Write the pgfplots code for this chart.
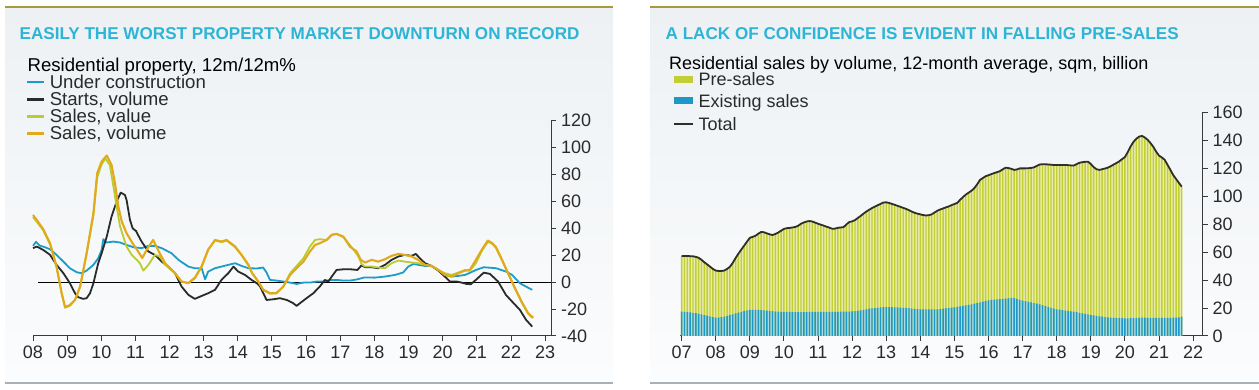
\documentclass[border=0pt]{standalone}
\usepackage{fontspec}
\setmainfont{Liberation Sans}
\usepackage{pgfplots}
\pgfplotsset{compat=1.18}
\usepackage{pgfplotstable}
\definecolor{titlecyan}{HTML}{2DB4D6}
\definecolor{ucblue}{HTML}{1C9DC9}
\definecolor{startsblk}{HTML}{2A2A2A}
\definecolor{salesval}{HTML}{BCCB2F}
\definecolor{salesvol}{HTML}{E2A91B}
\definecolor{olive}{HTML}{A39B3C}
\definecolor{botgrey}{HTML}{A9B1B6}
\definecolor{bgtop}{HTML}{EDF1F4}
\definecolor{bgbot}{HTML}{FBFCFD}
\definecolor{axisgrey}{HTML}{3A3A3A}
\definecolor{labgrey}{HTML}{2A2A2A}
\definecolor{preDark}{HTML}{C3CE35}
\definecolor{prePale}{HTML}{E8ECAE}
\definecolor{exDark}{HTML}{1E98C6}
\definecolor{exPale}{HTML}{A9DBEE}
\definecolor{totC}{HTML}{2F2F28}

\pgfplotstableread{
m total exist
0 57.2 17.4
1 57.2 17.3
2 57.2 17.1
3 57.1 16.9
4 57.0 16.6
5 56.6 16.3
6 55.9 15.9
7 54.5 15.5
8 52.7 15.0
9 51.2 14.5
10 49.6 14.0
11 48.0 13.5
12 46.8 13.1
13 46.5 13.2
14 46.5 13.5
15 46.8 13.9
16 48.0 14.4
17 49.5 15.0
18 52.3 15.5
19 55.8 16.1
20 58.9 16.7
21 61.8 17.3
22 64.6 17.8
23 67.5 18.3
24 70.2 18.6
25 70.9 18.7
26 71.7 18.7
27 73.2 18.6
28 74.4 18.5
29 74.2 18.3
30 73.4 18.1
31 72.7 17.9
32 72.2 17.7
33 73.0 17.5
34 74.0 17.4
35 75.3 17.3
36 76.6 17.2
37 77.1 17.2
38 77.3 17.2
39 77.6 17.1
40 78.0 17.1
41 78.8 17.1
42 80.3 17.1
43 81.2 17.1
44 81.9 17.1
45 82.2 17.2
46 81.9 17.2
47 81.1 17.2
48 80.3 17.2
49 79.6 17.2
50 78.9 17.2
51 78.2 17.2
52 77.5 17.2
53 76.7 17.3
54 76.8 17.3
55 77.4 17.3
56 77.6 17.4
57 77.9 17.4
58 79.8 17.5
59 81.5 17.5
60 82.0 17.6
61 82.9 17.8
62 84.4 18.0
63 85.9 18.3
64 87.5 18.6
65 89.0 19.0
66 90.3 19.5
67 91.5 19.8
68 92.5 20.0
69 93.5 20.2
70 94.5 20.4
71 95.5 20.6
72 95.6 20.7
73 95.2 20.7
74 94.5 20.6
75 93.8 20.5
76 93.1 20.4
77 92.4 20.3
78 91.6 20.2
79 90.9 20.1
80 90.0 19.9
81 89.0 19.6
82 88.1 19.4
83 87.5 19.2
84 87.0 19.1
85 86.5 19.0
86 86.2 19.0
87 86.4 19.0
88 87.0 19.0
89 88.3 19.0
90 89.6 19.1
91 90.5 19.3
92 91.2 19.5
93 92.0 19.8
94 92.7 20.0
95 93.6 20.3
96 94.4 20.5
97 95.2 20.8
98 97.4 21.1
99 99.3 21.5
100 101.1 21.9
101 102.5 22.2
102 103.9 22.6
103 105.7 23.1
104 108.5 23.6
105 111.6 24.1
106 113.0 24.6
107 114.3 25.1
108 115.0 25.5
109 115.8 25.8
110 116.5 26.0
111 117.2 26.2
112 117.9 26.4
113 119.2 26.6
114 120.4 26.7
115 120.1 26.9
116 119.6 27.2
117 118.8 27.0
118 119.1 26.5
119 119.9 25.9
120 119.9 25.3
121 119.9 24.9
122 120.0 24.4
123 120.2 24.0
124 120.6 23.5
125 121.7 23.1
126 122.7 22.6
127 122.8 22.0
128 122.8 21.4
129 122.7 20.8
130 122.5 20.2
131 122.3 19.6
132 122.3 19.1
133 122.3 18.8
134 122.3 18.5
135 122.3 18.2
136 122.2 17.9
137 122.0 17.6
138 121.9 17.4
139 122.9 17.0
140 123.9 16.6
141 124.3 16.2
142 124.6 15.8
143 124.7 15.4
144 123.0 15.0
145 120.8 14.7
146 119.3 14.4
147 118.8 14.1
148 119.3 13.8
149 119.8 13.5
150 120.4 13.3
151 121.4 13.2
152 122.6 13.0
153 123.7 12.9
154 124.9 12.8
155 126.5 12.7
156 128.0 12.6
157 131.5 12.6
158 135.6 12.7
159 138.8 12.8
160 141.1 12.9
161 142.6 13.0
162 143.1 13.1
163 142.0 13.1
164 140.3 13.0
165 138.0 13.0
166 135.3 12.9
167 131.8 12.9
168 129.0 12.9
169 127.7 12.9
170 126.0 12.9
171 122.4 13.0
172 118.8 13.0
173 115.1 13.1
174 112.3 13.1
175 109.5 13.4
176 106.8 13.8
}\rightdata

\begin{document}
\begin{tikzpicture}[x=1pt,y=1pt]
\useasboundingbox (0,0) rectangle (1259,390);
\fill[white] (0,0) rectangle (1259,390);
% panels
\shade[top color=bgtop, bottom color=bgbot] (5,7) rectangle (613,383);
\shade[top color=bgtop, bottom color=bgbot] (650,7) rectangle (1259,383);
\draw[olive, line width=2pt] (5,383) -- (613,383);
\draw[olive, line width=2pt] (650,383) -- (1259,383);
\draw[botgrey, line width=2.2pt] (5,7) -- (613,7);
\draw[botgrey, line width=2.2pt] (650,7) -- (1259,7);

% titles
\node[anchor=base west, inner sep=0pt, text=titlecyan, font=\fontsize{17.1pt}{20pt}\bfseries\selectfont] at (19.4,350) {EASILY THE WORST PROPERTY MARKET DOWNTURN ON RECORD};
\node[anchor=base west, inner sep=0pt, text=titlecyan, font=\fontsize{17.1pt}{20pt}\bfseries\selectfont] at (665.5,350) {A LACK OF CONFIDENCE IS EVIDENT IN FALLING PRE-SALES};

% subtitles
\node[anchor=base west, inner sep=0pt, text=black, font=\fontsize{18.6pt}{20pt}\selectfont] at (27.4,318.5) {Residential property, 12m/12m\%};
\node[anchor=base west, inner sep=0pt, text=black, font=\fontsize{18pt}{20pt}\selectfont] at (669,320.3) {Residential sales by volume, 12-month average, sqm, billion};

% left legend
\draw[ucblue, line width=2.5pt] (27.4,308) -- (44.4,308);
\node[anchor=base west, inner sep=0pt, text=labgrey, font=\fontsize{18.6pt}{20pt}\selectfont] at (49.6,301.6) {Under construction};
\draw[startsblk, line width=2.5pt] (27.4,290.5) -- (44.4,290.5);
\node[anchor=base west, inner sep=0pt, text=labgrey, font=\fontsize{18.6pt}{20pt}\selectfont] at (49.6,284.1) {Starts, volume};
\draw[salesval, line width=2.5pt] (27.4,273.5) -- (44.4,273.5);
\node[anchor=base west, inner sep=0pt, text=labgrey, font=\fontsize{18.6pt}{20pt}\selectfont] at (49.6,267.1) {Sales, value};
\draw[salesvol, line width=2.5pt] (27.4,256.5) -- (44.4,256.5);
\node[anchor=base west, inner sep=0pt, text=labgrey, font=\fontsize{18.6pt}{20pt}\selectfont] at (49.6,250.1) {Sales, volume};

% right legend
\fill[preDark] (674,307.2) rectangle (692.5,314.2);
\node[anchor=base west, inner sep=0pt, text=labgrey, font=\fontsize{18pt}{20pt}\selectfont] at (698.5,304.3) {Pre-sales};
\fill[exDark] (674,285.5) rectangle (692.5,292.5);
\node[anchor=base west, inner sep=0pt, text=labgrey, font=\fontsize{18pt}{20pt}\selectfont] at (698.5,282.6) {Existing sales};
\draw[totC, line width=2pt] (674,266) -- (692.5,266);
\node[anchor=base west, inner sep=0pt, text=labgrey, font=\fontsize{18pt}{20pt}\selectfont] at (698.5,259.6) {Total};

% ---------- left axis ----------
\begin{axis}[
  at={(33pt,54pt)}, anchor=south west,
  scale only axis, width=518pt, height=215.2pt,
  xmin=2008, xmax=2023.17, ymin=-40, ymax=120,
  axis x line*=bottom, axis y line*=right,
  xtick={2008,2009,...,2023},
  xticklabels={08,09,10,11,12,13,14,15,16,17,18,19,20,21,22,23},
  ytick={-40,-20,0,20,40,60,80,100,120},
  yticklabels={-40,-20,0,20,40,60,80,100,120},
  tick align=outside, major tick length=5pt,
  axis line style={draw=axisgrey, line width=1pt},
  tick style={draw=axisgrey, line width=1pt},
  ticklabel style={font=\fontsize{18pt}{18pt}\selectfont, text=labgrey},
  yticklabel style={anchor=west, inner sep=0pt, xshift=5pt},
  xticklabel style={anchor=north, inner sep=0pt, yshift=-5pt},
  clip=false,
]
\addplot[black, line width=0.9pt] coordinates {(2008.15,0) (2023.17,0)};
\addplot[ucblue, line width=1.8pt, line join=round] coordinates {
(2008.0,27) (2008.09,30) (2008.2,27.2) (2008.35,26) (2008.5,24.5) (2008.69,20.3) (2008.89,15.3) (2009.08,10.4) (2009.28,7.4) (2009.42,6.7) (2009.57,8.6) (2009.77,12.9) (2009.91,17.8) (2010.01,24) (2010.06,32) (2010.16,29.5) (2010.35,30.2) (2010.55,29.5) (2010.74,27.7) (2010.94,26) (2011.18,25.3) (2011.38,27) (2011.57,27) (2011.77,25.3) (2012.06,21.5) (2012.26,16.6) (2012.55,11.6) (2012.74,10.4) (2012.94,10.4) (2013.04,2.2) (2013.13,7.9) (2013.33,10.4) (2013.52,11.6) (2013.72,12.9) (2013.92,14.1) (2014.11,12.1) (2014.31,10.4) (2014.55,10.2) (2014.74,10.9) (2014.84,7.2) (2014.94,1.7) (2015.13,1.2) (2015.33,0.5) (2015.53,-0.3) (2015.72,-1.3) (2015.92,-0.3) (2016.11,-0.3) (2016.31,0.5) (2016.5,0.5) (2016.7,1.7) (2016.89,1.7) (2017.09,1.2) (2017.28,1.2) (2017.48,2.0) (2017.7,3.5) (2018.01,3.4) (2018.31,4.2) (2018.6,5.4) (2018.84,7.2) (2018.99,11.6) (2019.14,13.6) (2019.28,12.9) (2019.48,12.1) (2019.67,12.1) (2019.87,9.1) (2020.06,5.4) (2020.26,4.2) (2020.46,4.7) (2020.65,5.4) (2020.8,7) (2020.97,9.1) (2021.2,11.1) (2021.56,10.4) (2021.85,7.9) (2022.03,5.4) (2022.26,-0.8) (2022.44,-3.3) (2022.62,-5.7)
};
\addplot[startsblk, line width=1.8pt, line join=round] coordinates {
(2008.0,25.3) (2008.11,26.5) (2008.3,24) (2008.5,20.3) (2008.69,12.9) (2008.89,6.7) (2009.08,-0.7) (2009.23,-8.2) (2009.33,-11.2) (2009.47,-12.4) (2009.57,-11.9) (2009.67,-8.2) (2009.77,-0.7) (2009.91,14.1) (2010.01,21.5) (2010.16,33.9) (2010.3,48.8) (2010.45,60) (2010.57,66.6) (2010.69,64.9) (2010.74,61.2) (2010.84,46.3) (2010.92,40) (2011.02,38) (2011.1,34) (2011.18,30.2) (2011.38,22.8) (2011.57,20.3) (2011.77,15.3) (2011.96,11.6) (2012.16,6.7) (2012.35,-3.2) (2012.55,-9.4) (2012.74,-12.4) (2012.94,-10.2) (2013.13,-8.2) (2013.33,-5.7) (2013.52,1.7) (2013.72,6.7) (2013.87,11.6) (2014.01,7.9) (2014.21,5.4) (2014.4,1.7) (2014.55,-0.7) (2014.65,-3.2) (2014.84,-13.2) (2015.04,-12.7) (2015.23,-11.9) (2015.43,-13.2) (2015.62,-15.6) (2015.72,-17.6) (2015.82,-15.6) (2016.01,-11.9) (2016.21,-8.2) (2016.4,-3.2) (2016.55,1.7) (2016.65,0.5) (2016.75,4.2) (2016.89,9.1) (2017.09,9.6) (2017.3,9.6) (2017.5,9.1) (2017.62,12.5) (2017.72,11.2) (2017.92,11.1) (2018.11,10.4) (2018.31,12.9) (2018.5,16.6) (2018.7,19.1) (2018.89,20.3) (2019.09,19.6) (2019.21,21) (2019.33,17.8) (2019.48,14.1) (2019.67,12.1) (2019.87,8.6) (2020.06,4.2) (2020.21,0.5) (2020.41,0.5) (2020.55,-0.3) (2020.7,-1.3) (2020.82,-1.5) (2020.97,1.7) (2021.2,7.1) (2021.38,6.2) (2021.62,0.5) (2021.85,-9.5) (2022.03,-14.4) (2022.26,-20.6) (2022.44,-28) (2022.62,-33)
};
\addplot[salesval, line width=1.8pt, line join=round] coordinates {
(2008.0,48.3) (2008.11,45) (2008.3,38.5) (2008.5,28) (2008.69,11) (2008.84,-8.5) (2008.94,-19) (2009.08,-17.5) (2009.23,-13.5) (2009.38,-3.5) (2009.57,21) (2009.77,50) (2009.88,78) (2010.01,87.5) (2010.12,92) (2010.25,87) (2010.35,72) (2010.45,56.2) (2010.55,41.4) (2010.74,26.5) (2010.89,20.3) (2011.04,16.6) (2011.13,14.1) (2011.23,8.6) (2011.38,12.9) (2011.57,20.3) (2011.72,19.1) (2011.87,12.9) (2012.16,6.7) (2012.35,0.3) (2012.55,-0.5) (2012.74,3.5) (2012.94,12) (2013.13,24.5) (2013.33,31) (2013.52,29.8) (2013.67,31) (2013.92,26) (2014.11,20) (2014.31,12.5) (2014.42,6.5) (2014.6,0.2) (2014.74,-5.5) (2014.94,-8.5) (2015.13,-8) (2015.33,-3.2) (2015.53,6.7) (2015.72,12.1) (2015.92,17.8) (2016.11,26.5) (2016.26,31.4) (2016.4,32) (2016.6,31.4) (2016.75,35.2) (2016.89,35.9) (2017.09,33.5) (2017.28,27.7) (2017.48,21) (2017.55,18) (2017.62,13.6) (2017.72,11.6) (2017.92,11.6) (2018.11,10.9) (2018.31,10.4) (2018.5,14.1) (2018.7,16.1) (2018.89,15.3) (2019.09,14.6) (2019.28,14.1) (2019.48,12.9) (2019.67,12.1) (2019.87,9.1) (2020.06,6.7) (2020.26,5.4) (2020.46,7.2) (2020.65,9.1) (2020.79,8.5) (2020.97,14) (2021.14,23) (2021.32,30) (2021.45,28.5) (2021.56,25.5) (2021.73,16.5) (2021.91,6.5) (2022.09,-3.5) (2022.32,-15.5) (2022.5,-23.5) (2022.62,-26.5)
};
\addplot[salesvol, line width=2.1pt, line join=round] coordinates {
(2008.0,50) (2008.11,46.3) (2008.3,39.4) (2008.5,29) (2008.69,11.6) (2008.84,-8.2) (2008.94,-18.5) (2009.08,-17) (2009.23,-13.2) (2009.38,-3.2) (2009.57,21.5) (2009.77,51.3) (2009.88,81) (2010.01,89.7) (2010.16,94.2) (2010.3,87.2) (2010.4,73.6) (2010.5,56.2) (2010.6,45.1) (2010.74,36.4) (2010.94,28) (2011.05,24) (2011.2,18) (2011.35,25) (2011.52,31.4) (2011.7,22) (2011.87,14.1) (2012.16,6.7) (2012.35,0.5) (2012.55,-0.7) (2012.74,3) (2012.94,11.6) (2013.13,24) (2013.33,31.4) (2013.52,30.2) (2013.67,31.4) (2013.92,26.5) (2014.11,20.3) (2014.31,12.9) (2014.42,6.7) (2014.6,0.5) (2014.74,-5.7) (2014.94,-8.2) (2015.13,-8.2) (2015.33,-3.2) (2015.53,5.4) (2015.72,10.4) (2015.92,15.3) (2016.11,22.8) (2016.26,27.7) (2016.4,29) (2016.6,31.4) (2016.75,35.2) (2016.89,35.9) (2017.09,33.9) (2017.28,26.5) (2017.48,22.8) (2017.6,16.6) (2017.72,14.6) (2017.92,16.6) (2018.11,15.3) (2018.31,17.1) (2018.5,19.6) (2018.7,21) (2018.89,20.3) (2019.09,19.1) (2019.28,16.6) (2019.48,12.9) (2019.67,12.1) (2019.87,9.1) (2020.06,5.4) (2020.26,4.2) (2020.46,6.7) (2020.65,8.6) (2020.79,9) (2020.97,16.6) (2021.14,24) (2021.32,31) (2021.45,29) (2021.56,26) (2021.73,17) (2021.91,7) (2022.09,-3) (2022.32,-15) (2022.5,-23) (2022.65,-26.5)
};
\end{axis}

% ---------- right axis ----------
\begin{axis}[
  at={(679.9pt,54pt)}, anchor=south west,
  scale only axis, width=522.6pt, height=223.7pt,
  xmin=-0.6, xmax=183.3, ymin=0, ymax=160,
  axis x line*=bottom, axis y line*=right,
  xtick={0,12,...,180},
  xticklabels={07,08,09,10,11,12,13,14,15,16,17,18,19,20,21,22},
  ytick={0,20,...,160},
  yticklabels={0,20,40,60,80,100,120,140,160},
  tick align=outside, major tick length=5pt,
  axis line style={draw=axisgrey, line width=1pt},
  tick style={draw=axisgrey, line width=1pt},
  ticklabel style={font=\fontsize{18pt}{18pt}\selectfont, text=labgrey},
  yticklabel style={anchor=west, inner sep=0pt, xshift=5pt},
  xticklabel style={anchor=north, inner sep=0pt, yshift=-5pt},
]
\addplot[fill=prePale, draw=none] table[x=m,y=total]{\rightdata} \closedcycle;
\addplot[fill=exPale, draw=none] table[x=m,y=exist]{\rightdata} \closedcycle;
\addplot[ybar, bar width=1.4pt, bar shift=0pt, fill=preDark, draw=none] table[x=m,y=total]{\rightdata};
\addplot[ybar, bar width=1.4pt, bar shift=0pt, fill=exDark, draw=none] table[x=m,y=exist]{\rightdata};
\addplot[totC, line width=1.8pt, line join=round] table[x=m,y=total]{\rightdata};
\end{axis}
\end{tikzpicture}
\end{document}
